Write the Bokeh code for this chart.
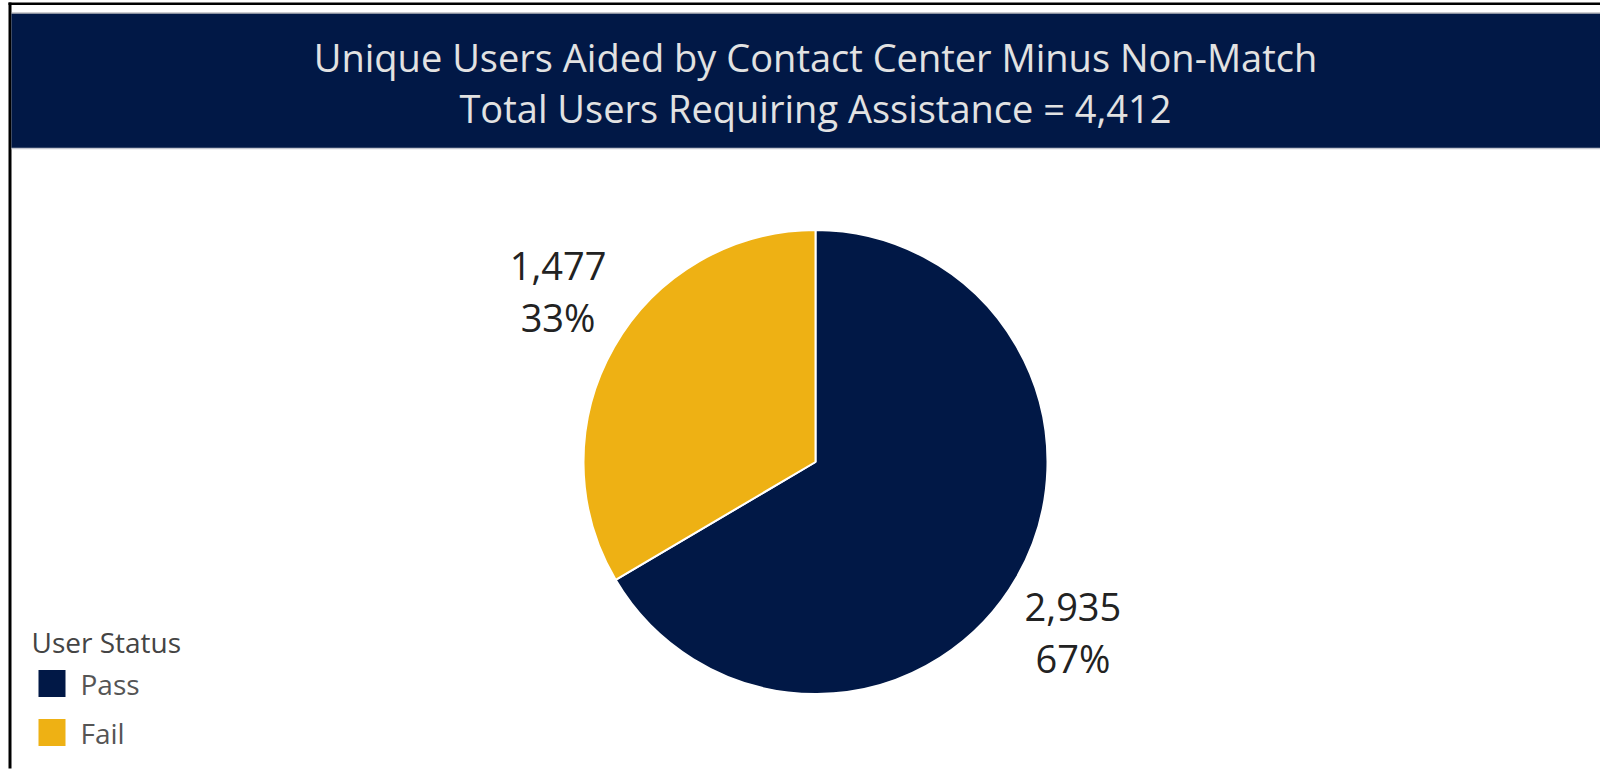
import math
from bokeh.plotting import figure
from bokeh.models import Range1d, ColumnDataSource
from bokeh.core.properties import value
from bokeh.embed import file_html
from bokeh.resources import INLINE

# ---- data ----
statuses = ["Pass", "Fail"]
counts = [2935, 1477]
colors = ["#011846", "#EEB114"]
title_line1 = "Unique Users Aided by Contact Center Minus Non-Match"
legend_title = "User Status"

total = sum(counts)
title_line2 = "Total Users Requiring Assistance = {:,}".format(total)

W, H = 1600, 769
FONT = value("Open Sans")

p = figure(width=W, height=H, output_backend="svg", toolbar_location=None,
           x_range=Range1d(0, W), y_range=Range1d(0, H),
           min_border=0, tools="")
p.axis.visible = False
p.grid.visible = False
p.outline_line_color = None
p.background_fill_color = "white"

def Y(page_y):
    return H - page_y

def X(page_x):
    return page_x

# borders
p.quad(left=[X(8)], right=[W], bottom=[Y(4.5)], top=[Y(2)], fill_color="black", line_color=None)
p.quad(left=[X(8)], right=[X(11)], bottom=[Y(768)], top=[Y(2)], fill_color="black", line_color=None)

# header band
p.quad(left=[X(11)], right=[W], bottom=[Y(148)], top=[Y(13)], fill_color="#011846",
       line_color=None)
p.segment(x0=[X(11)], x1=[W], y0=[Y(148)], y1=[Y(148)], line_color="#c4c6d0", line_width=1.5)
p.segment(x0=[X(11)], x1=[W], y0=[Y(12.5)], y1=[Y(12.5)], line_color="#9a9aa0", line_width=1)

p.text(x=[X(815)], y=[Y(56)], text=[title_line1], text_font=FONT, text_font_size="38px",
       text_color="#e2e2e2", text_align="center", text_baseline="middle")
p.text(x=[X(815)], y=[Y(107)], text=[title_line2], text_font=FONT, text_font_size="38px",
       text_color="#e2e2e2", text_align="center", text_baseline="middle")

# pie
cx, cy, r = X(815), Y(461.5), 232
starts, ends, mids = [], [], []
cum = 0
for c in counts:
    a0 = math.pi / 2 - 2 * math.pi * cum / total
    cum += c
    a1 = math.pi / 2 - 2 * math.pi * cum / total
    starts.append(a0)
    ends.append(a1)
    mids.append((a0 + a1) / 2)

src = ColumnDataSource(dict(start=starts, end=ends, color=colors, status=statuses))
p.wedge(x=cx, y=cy, radius=r, start_angle="start", end_angle="end", direction="clock",
        fill_color="color", line_color="white", line_width=2, source=src)

# labels
for c, m in zip(counts, mids):
    ex = cx + r * math.cos(m)
    ey = cy + r * math.sin(m)
    lx = ex + math.copysign(56, math.cos(m))
    ly = ey + math.copysign(55, math.sin(m))
    pct = "{:.0f}%".format(100 * c / total)
    p.text(x=[lx], y=[ly + 25.5], text=["{:,}".format(c)], text_font=FONT,
           text_font_size="38px", text_color="#222222", text_align="center",
           text_baseline="middle")
    p.text(x=[lx], y=[ly - 25.5], text=[pct], text_font=FONT,
           text_font_size="38px", text_color="#222222", text_align="center",
           text_baseline="middle")

# legend
p.text(x=[X(31)], y=[Y(641)], text=[legend_title], text_font=FONT, text_font_size="28px",
       text_color="#444444", text_align="left", text_baseline="middle")
for i, (s, col) in enumerate(zip(statuses, colors)):
    yc = Y(683 + 49 * i)
    p.rect(x=[X(51.5)], y=[yc], width=27, height=27, fill_color=col, line_color=None)
    p.text(x=[X(80)], y=[yc], text=[s], text_font=FONT, text_font_size="28px",
           text_color="#555555", text_align="left", text_baseline="middle")

open("out.html", "w").write(file_html(p, INLINE))
